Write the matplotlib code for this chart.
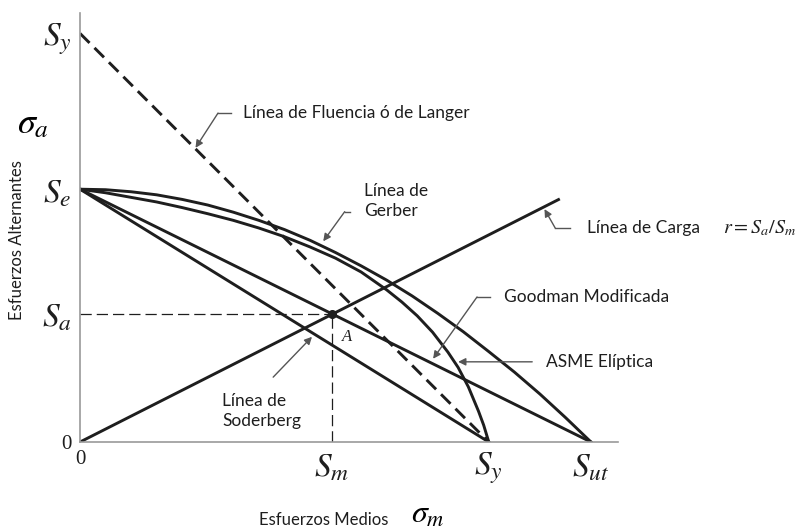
import matplotlib
matplotlib.use("Agg")
import matplotlib.pyplot as plt

plt.rcParams['mathtext.fontset'] = 'stix'

# material strengths (same units on both axes)
Sut = 100.0
Sy = 80.0
Se = 49.5

# working point A (load line meets modified Goodman)
Sm = 49.3
Sa = 25.1

# load line end point
carga_x = [0.0, 93.9]
carga_y = [0.0, 47.6]

# criteria as drawn
gerber_x = [0, 5, 10, 15, 20, 25, 30, 35, 40, 45, 50, 55, 60, 65, 70, 75, 80, 85, 90, 95, 100]
gerber_y = [49.5, 49.4, 49.0, 48.4, 47.5, 46.4, 45.0, 43.4, 41.6, 39.5, 37.1, 34.5,
            31.7, 28.6, 25.2, 21.6, 17.7, 13.7, 9.4, 4.8, 0.0]

asme_x = [0, 5, 10, 15, 20, 25, 30, 35, 40, 45, 50, 55, 60, 63, 66, 69, 72, 74, 76, 78, 79, 80]
asme_y = [49.5, 48.8, 47.9, 47.0, 45.9, 44.7, 43.4, 41.9, 40.2, 38.2, 36.0, 33.3,
          29.8, 27.4, 24.7, 21.5, 17.6, 14.6, 10.8, 6.0, 3.3, 0.0]

goodman_x = [0.0, Sut]
goodman_y = [Se, 0.0]
soderberg_x = [0.0, Sy]
soderberg_y = [Se, 0.0]
langer_x = [0.0, Sy]
langer_y = [Sy, 0.0]

ink = '#1e1e1e'
grey = '#555555'
sans = 'Lato'
serif = 'Liberation Serif'

fig = plt.figure(figsize=(7.98, 5.31), dpi=100)
ax = fig.add_axes([0.1003, 0.1676, 0.6742, 0.8079])
ax.set_xlim(0, 105.3)
ax.set_ylim(0, 84.0)

for side in ['top', 'right']:
    ax.spines[side].set_visible(False)
for side in ['left', 'bottom']:
    ax.spines[side].set_color('#9a9a9a')
    ax.spines[side].set_linewidth(1.2)

lw = 2.1
ax.plot(langer_x, langer_y, color=ink, lw=lw, dashes=(4.6, 2.4))
ax.plot(soderberg_x, soderberg_y, color=ink, lw=lw)
ax.plot(goodman_x, goodman_y, color=ink, lw=lw)
ax.plot(gerber_x, gerber_y, color=ink, lw=lw)
ax.plot(asme_x, asme_y, color=ink, lw=lw)
ax.plot(carga_x, carga_y, color=ink, lw=lw, solid_capstyle='butt')

# projections of A on both axes
ax.plot([0, Sm], [Sa, Sa], color=ink, lw=0.9, dashes=(9, 4))
ax.plot([Sm, Sm], [0, Sa], color=ink, lw=0.9, dashes=(9, 4))
ax.plot([Sm], [Sa], 'o', color=ink, ms=5.5, zorder=5)
ax.text(Sm + 2.0, Sa - 4.6, 'A', family=serif, style='italic', fontsize=12,
        color=ink, ha='left', va='center')

# ticks and their labels
ax.set_xticks([0, Sm, Sy, Sut])
ax.set_xticklabels(['0', r'$S_m$', r'$S_y$', r'$S_{ut}$'])
ax.set_yticks([0, Sa, Se, Sy])
ax.set_yticklabels(['0', r'$S_a$', r'$S_e$', r'$S_y$'])
ax.tick_params(axis='both', which='major', length=0, colors=ink)
ax.tick_params(axis='x', which='major', pad=6)
ax.tick_params(axis='y', which='major', pad=6)
for lab in ax.get_xticklabels() + ax.get_yticklabels():
    if lab.get_text() == '0':
        lab.set_fontsize(15)
        lab.set_family(serif)
    else:
        lab.set_fontsize(24)
ax.set_xticks([Sy, Sut], minor=True)
ax.set_yticks([Sy], minor=True)
ax.tick_params(which='minor', direction='in', length=6, width=1.0, color='#9a9a9a')

# axis titles
ax.text(-9.2, 62.4, r'$\sigma_a$', fontsize=26, ha='center', va='center', clip_on=False)
ax.text(-12.4, 39.5, 'Esfuerzos Alternantes', family=sans, fontsize=12, rotation=90,
        ha='center', va='center', color=ink, clip_on=False)
ax.text(47.7, -15.3, 'Esfuerzos Medios', family=sans, fontsize=12,
        ha='center', va='center', color=ink, clip_on=False)
ax.text(68.0, -15.8, r'$\sigma_m$', fontsize=23, ha='center', va='baseline', clip_on=False)


def leader(pts, tip):
    xs = [p[0] for p in pts]
    ys = [p[1] for p in pts]
    ax.plot(xs, ys, color=grey, lw=1.0, clip_on=False)
    ax.annotate('', xy=tip, xytext=pts[-1],
                arrowprops=dict(arrowstyle='-|>', color=grey, lw=1.0,
                                mutation_scale=11, shrinkA=0, shrinkB=0))


fs = 12.5
ax.text(31.9, 64.4, 'Línea de Fluencia ó de Langer', family=sans, fontsize=fs,
        color=ink, ha='left', va='center')
leader([(29.6, 64.4), (27.0, 64.4)], (22.6, 57.6))

ax.text(55.6, 47.2, 'Línea de\nGerber', family=sans, fontsize=fs, color=ink,
        ha='left', va='center', linespacing=1.3)
leader([(52.8, 45.1), (51.8, 45.1)], (47.6, 39.3))

ax.text(99.2, 41.9, 'Línea de Carga', family=sans, fontsize=fs, color=ink,
        ha='left', va='center', clip_on=False)
ax.text(125.8, 41.9, r'$r = S_a/S_m$', fontsize=14.5, color=ink,
        ha='left', va='center', clip_on=False)
leader([(95.9, 41.9), (93.0, 41.9)], (90.9, 45.6))

ax.text(83.0, 28.4, 'Goodman Modificada', family=sans, fontsize=fs, color=ink,
        ha='left', va='center', clip_on=False)
leader([(80.2, 28.4), (77.7, 28.4)], (69.1, 16.3))

ax.text(91.2, 15.7, 'ASME Elíptica', family=sans, fontsize=fs, color=ink,
        ha='left', va='center', clip_on=False)
leader([(88.5, 15.7)], (74.0, 15.7))

ax.text(27.8, 6.0, 'Línea de\nSoderberg', family=sans, fontsize=fs, color=ink,
        ha='left', va='center', linespacing=1.3)
leader([(37.8, 12.7)], (45.4, 20.6))

fig.savefig('out.png', dpi=100)
